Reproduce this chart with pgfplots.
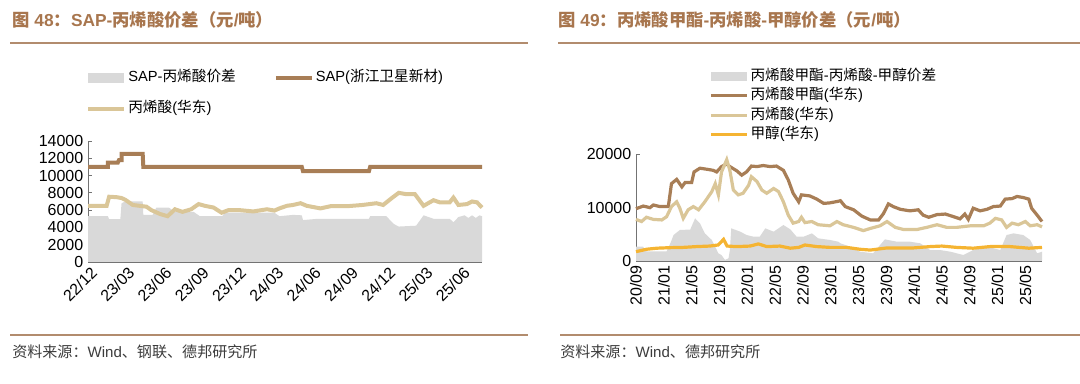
\documentclass[border=0pt]{standalone}
\usepackage{pgfplots}
\pgfplotsset{compat=1.18}
\usepackage{fontspec}
\setmainfont{Liberation Sans}
\newfontfamily\cjk{Noto Sans CJK SC}
\definecolor{spreadgray}{RGB}{217,217,217}
\definecolor{darkbrown}{RGB}{168,126,86}
\definecolor{tan}{RGB}{218,198,152}
\definecolor{orangeln}{RGB}{245,180,50}
\definecolor{titlebrown}{RGB}{168,118,78}
\definecolor{rulebrown}{RGB}{178,140,110}
\definecolor{footgray}{RGB}{60,60,60}
\pgfplotsset{
  mystyle/.style={
    scale only axis,
    anchor=south west,
    axis x line=bottom, axis y line=left,
    axis line style={-, black!55, line width=0.6pt},
    tick style={black!55, line width=0.6pt},
    tick align=inside,
    major tick length=3pt,
    ticklabel style={font=\fontsize{12}{14}\selectfont, text=black},
    /pgf/number format/assume math mode=true,
    scaled y ticks=false,
    yticklabel style={/pgf/number format/.cd, fixed, 1000 sep={}},
    legend cell align=left,
    legend style={draw=none, fill=none, inner sep=0pt,
      font=\fontsize{11}{13}\selectfont,
      nodes={inner sep=1.5pt, text height=8.5pt, text depth=2.5pt}},
    clip=false,
  },
  linelegend/.style={legend image code/.code={\draw[##1] (0pt,0pt) -- (27pt,0pt);}},
  arealegend/.style={legend image code/.code={\fill[spreadgray] (0pt,-3.5pt) rectangle (27pt,3.5pt);}},
}
\begin{document}
\begin{tikzpicture}
\path[use as bounding box] (0,0) rectangle (810pt,288pt);
% titles
\node[anchor=west, text=titlebrown, font=\fontsize{13}{15}\selectfont\bfseries, inner sep=0pt] at (9pt,273pt)
  {{\cjk 图} 48{\cjk ：}SAP-{\cjk 丙烯酸价差（元}/{\cjk 吨）}};
\node[anchor=west, text=titlebrown, font=\fontsize{13}{15}\selectfont\bfseries, inner sep=0pt] at (418.5pt,273pt)
  {{\cjk 图} 49{\cjk ：丙烯酸甲酯}-{\cjk 丙烯酸}-{\cjk 甲醇价差（元}/{\cjk 吨）}};
\draw[rulebrown, line width=1.5pt] (7.5pt,255.4pt) -- (396pt,255.4pt);
\draw[rulebrown, line width=1.5pt] (418.5pt,255.4pt) -- (810pt,255.4pt);
\draw[rulebrown, line width=2pt] (7.5pt,36.75pt) -- (396pt,36.75pt);
\draw[rulebrown, line width=2pt] (420pt,36.75pt) -- (810pt,36.75pt);
\node[anchor=west, text=footgray, font=\fontsize{11.3}{13}\selectfont, inner sep=0pt] at (9pt,24pt)
  {{\cjk 资料来源：}Wind{\cjk 、钢联、德邦研究所}};
\node[anchor=west, text=footgray, font=\fontsize{11.3}{13}\selectfont, inner sep=0pt] at (420pt,24pt)
  {{\cjk 资料来源：}Wind{\cjk 、德邦研究所}};

% ---------------- left chart
\begin{axis}[mystyle,
  at={(66pt,91.5pt)}, width=295.5pt, height=90.75pt,
  xmin=0, xmax=31.7, ymin=0, ymax=14000,
  ytick={0,2000,...,14000},
  xtick={0,3,...,30},
  xticklabels={22/12,23/03,23/06,23/09,23/12,24/03,24/06,24/09,24/12,25/03,25/06},
  xticklabel style={rotate=45, anchor=north east, inner sep=1pt, yshift=-2pt},
  legend columns=2,
  legend style={at={(axis description cs:-0.005,1.6)}, anchor=north west,
    row sep=9pt, /tikz/every even column/.append style={column sep=27pt}},
]
\addplot[fill=spreadgray, draw=none, arealegend] coordinates {
(0,5300) (1.6,5300) (1.7,4950) (2.6,4950) (2.7,6800) (3.0,7000) (4.4,7000) (4.45,5450)
(5.2,5450) (5.5,6300) (6.5,6300) (7.0,5800) (8.5,5800) (9.0,5300) (10.8,5300) (11.0,5700)
(15.0,5700) (15.4,5300) (16.5,5450) (17.2,5400) (17.3,4850) (18.5,5000) (22.6,5000)
(22.7,5300) (24.0,5300) (24.6,4400) (25.0,4100) (26.4,4200) (27.0,5400) (27.8,5000)
(29.1,5000) (29.4,4600) (29.8,5200) (30.3,5400) (30.6,5100) (30.9,5400) (31.2,5100)
(31.5,5400) (31.7,5300)
} \closedcycle;
\addlegendentry{SAP-{\cjk 丙烯酸价差}}
\addplot[darkbrown, line width=3pt, linelegend] coordinates {
(0,11000) (1.6,11000) (1.6,11500) (2.4,11500) (2.5,11800) (2.7,11800) (2.7,12500)
(4.4,12500) (4.45,11000) (17.2,11000) (17.3,10500) (22.6,10500) (22.7,11000) (31.7,11000)
};
\addlegendentry{SAP({\cjk 浙江卫星新材})}
\addplot[tan, line width=3pt, linelegend] coordinates {
(0,6500) (1.5,6500) (1.7,7550) (2.3,7500) (2.7,7400) (3.0,7200) (3.6,6600) (4.7,6400)
(5.1,6000) (5.8,5550) (6.4,5300) (7.0,6100) (7.6,5800) (8.3,6100) (8.9,6700) (9.4,6500)
(10.1,6300) (10.75,5700) (11.3,6000) (12.2,6000) (13.3,5850) (14.4,6100) (15.0,5950)
(15.4,6200) (16.0,6500) (16.5,6600) (17.1,6800) (17.6,6500) (18.7,6200) (19.5,6450)
(20.8,6450) (22.1,6600) (23.2,6800) (23.75,6600) (24.4,7350) (25.0,8000) (25.6,7850)
(26.3,7850) (27.0,6500) (27.8,7150) (28.3,6900) (29.1,6900) (29.4,7450) (29.8,6600)
(30.5,6700) (30.9,7000) (31.3,6900) (31.7,6300)
};
\addlegendentry{{\cjk 丙烯酸}({\cjk 华东})}
\end{axis}

% ---------------- right chart
\begin{axis}[mystyle,
  at={(477pt,92.25pt)}, width=304.5pt, height=80pt,
  xmin=0, xmax=58.4, ymin=0, ymax=20000,
  ytick={0,10000,20000},
  xtick={0,4,...,56},
  xticklabels={20/09,21/01,21/05,21/09,22/01,22/05,22/09,23/01,23/05,23/09,24/01,24/05,24/09,25/01,25/05},
  xticklabel style={rotate=90, anchor=east, inner sep=1pt, yshift=0pt, xshift=-2pt},
  legend style={at={(axis description cs:0.18,1.82)}, anchor=north west, row sep=0.5pt},
]
\addplot[fill=spreadgray, draw=none, arealegend] coordinates {
(0,2700) (1.0,2700) (1.5,1800) (4.4,1800) (5.0,3500) (5.4,4870) (6.3,5810) (7.8,5900)
(8.5,8000) (9.2,7060) (9.9,5180) (10.9,3940) (11.85,1440) (12.3,1100) (12.8,200) (13.3,500)
(13.5,2000) (13.7,6120) (15.0,5500) (15.9,4870) (16.9,4560) (17.8,4560) (18.6,6120)
(19.8,5500) (21.2,6750) (22.2,5930) (23.1,4560) (24.1,4560) (25.3,5180) (26.2,4250)
(27.9,3940) (29.1,3620) (29.4,3310) (30.8,2690) (32.2,1750) (34.1,1440) (35.8,4060)
(37.5,3620) (39.4,3620) (40.9,3310) (42.3,2060) (43.7,2060) (45.2,1750) (47.1,1120)
(48.5,2060) (50.5,2690) (52.4,2060) (53.3,4870) (54.3,5180) (55.7,4870) (56.7,3940)
(57.7,1440) (58.4,1750)
} \closedcycle;
\addlegendentry{{\cjk 丙烯酸甲酯}-{\cjk 丙烯酸}-{\cjk 甲醇价差}}
\addplot[darkbrown, line width=2.4pt, linelegend] coordinates {
(0,9800) (1.05,10300) (2.0,10000) (2.5,10500) (3.45,10200) (4.65,10200) (5.1,14500)
(5.85,15300) (6.6,13900) (7.05,14700) (8.0,14700) (8.35,16700) (9.2,17400) (10.2,17200)
(11.1,17000) (11.6,16700) (12.3,17700) (13.05,18200) (13.5,17700) (14.5,16900) (15.2,16100)
(15.9,16700) (16.6,17800) (17.4,17700) (18.3,17900) (19.3,17700) (20.2,17800) (21.2,17000)
(21.9,15200) (22.6,12700) (23.4,11100) (23.8,12400) (25.0,12200) (26.0,11600) (27.0,10800)
(27.9,10900) (29.1,11200) (29.4,11300) (30.1,10200) (31.3,9600) (32.5,8400) (33.7,7700)
(34.9,7700) (35.6,8900) (36.3,10700) (37.0,10200) (38.0,9700) (39.4,9400) (40.6,9600)
(41.3,8600) (42.1,8200) (43.3,8700) (44.5,8800) (45.7,8300) (46.6,7900) (47.3,8800)
(47.8,7800) (48.5,9900) (49.5,9400) (50.5,9700) (51.4,10200) (52.4,10300) (53.1,11600)
(54.1,11700) (54.8,12100) (55.7,11900) (56.5,11600) (56.9,9900) (57.7,8600) (58.4,7400)
};
\addlegendentry{{\cjk 丙烯酸甲酯}({\cjk 华东})}
\addplot[tan, line width=2.4pt, linelegend] coordinates {
(0,7800) (0.8,7400) (1.5,8200) (2.5,7800) (3.7,7700) (4.4,8300) (5.1,10200) (5.85,11100)
(6.3,9900) (6.8,8000) (7.5,9600) (8.25,10200) (9.0,9600) (9.9,11100) (10.9,13000)
(11.4,14500) (11.85,12400) (12.3,16700) (13.05,19000) (13.5,17000) (14.0,13300) (14.7,12400)
(15.4,12700) (16.2,14200) (16.6,15800) (17.4,14900) (18.1,13300) (18.8,12700) (19.8,13600)
(20.5,13000) (21.2,11100) (21.9,8600) (22.6,7100) (23.4,7400) (23.8,8200) (24.3,7200)
(25.3,7400) (26.2,6800) (27.9,6600) (28.9,7400) (29.8,6800) (31.3,6300) (32.7,5700)
(33.7,6100) (35.1,6600) (36.1,7400) (37.3,6300) (38.5,5900) (40.4,5900) (41.8,6300)
(43.3,6800) (44.7,6300) (46.1,6300) (48.1,6600) (50.0,6600) (50.9,7100) (51.7,8000)
(52.6,7700) (53.3,6300) (54.1,7100) (55.0,6800) (56.0,7400) (56.7,6600) (57.7,6800) (58.4,6400)
};
\addlegendentry{{\cjk 丙烯酸}({\cjk 华东})}
\addplot[orangeln, line width=2.4pt, linelegend] coordinates {
(0,1750) (1.5,2200) (3.0,2400) (4.9,2500) (6.8,2550) (8.7,2700) (10.6,2800) (11.8,3000)
(12.6,4050) (13.1,2800) (14.5,2700) (16.4,2800) (17.6,3200) (18.8,2700) (20.7,2800)
(22.2,2400) (23.4,2550) (24.3,3000) (26.0,2700) (27.9,2550) (30.3,2550) (32.2,2200)
(33.7,2050) (36.1,2450) (39.9,2450) (42.3,2700) (44.0,2800) (46.1,2550) (48.5,2400)
(50.9,2700) (53.8,2700) (56.5,2400) (58.4,2550)
};
\addlegendentry{{\cjk 甲醇}({\cjk 华东})}
\end{axis}
\end{tikzpicture}
\end{document}
